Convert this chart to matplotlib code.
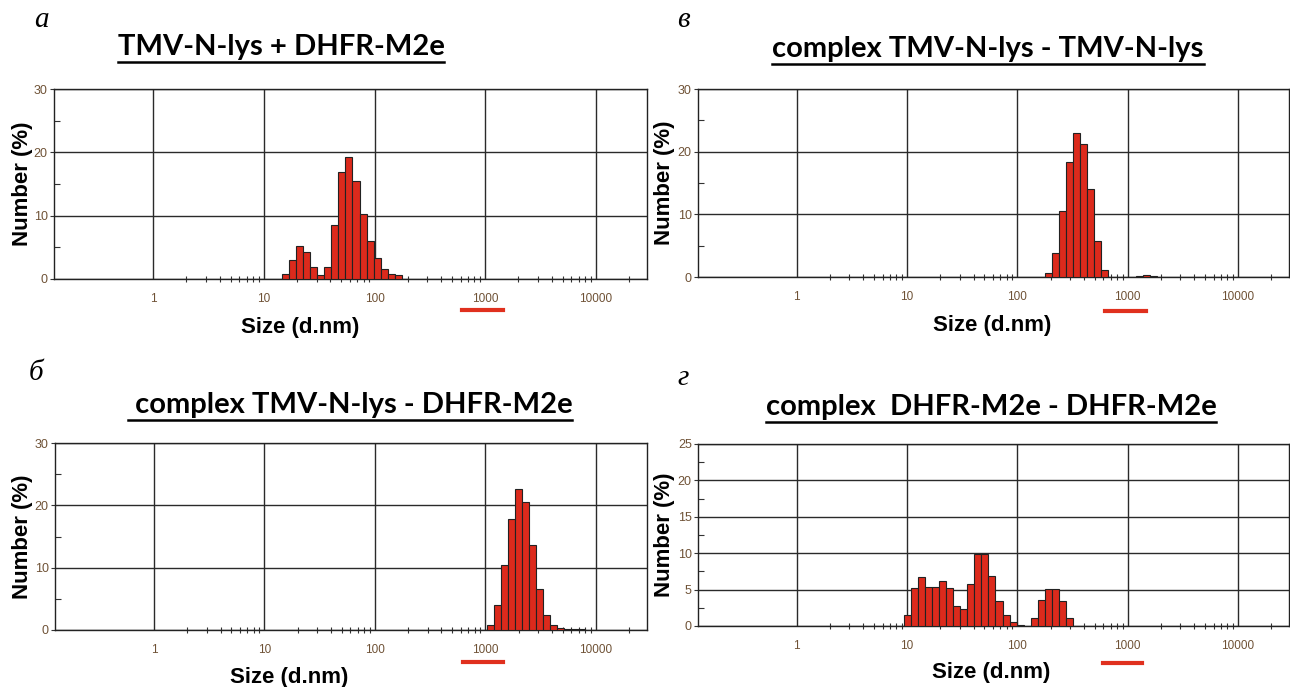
import matplotlib
matplotlib.use("Agg")
import matplotlib.pyplot as plt
from matplotlib.lines import Line2D
from matplotlib.ticker import FixedLocator, NullFormatter

# Zetasizer size classes (d.nm) and number distribution (%)
a_size = [15.69, 18.17, 21.04, 24.36, 28.21, 32.67, 37.84, 43.82, 50.75, 58.77,
          68.06, 78.82, 91.28, 105.7, 122.4, 141.8, 164.2]
a_pct = [0.8, 3.0, 5.2, 4.3, 1.9, 0.6, 1.9, 8.6, 16.9, 19.2,
         15.5, 10.2, 6.0, 3.3, 1.6, 0.8, 0.6]

v_size = [190.1, 220.2, 255.0, 295.3, 342.0, 396.1, 458.7, 531.2, 615.1,
          1281, 1484, 1718]
v_pct = [0.6, 3.9, 10.6, 18.4, 23.0, 21.3, 14.1, 5.8, 1.1,
         0.2, 0.25, 0.2]

b_size = [1106, 1281, 1484, 1718, 1990, 2305, 2669, 3091, 3580, 4145,
          4801, 5560, 6439, 7456]
b_pct = [0.8, 4.0, 10.4, 17.8, 22.7, 20.5, 13.6, 6.5, 2.4, 0.8,
         0.4, 0.2, 0.2, 0.2]

g_size = [10.1, 11.7, 13.54, 15.69, 18.17, 21.04, 24.36, 28.21, 32.67, 37.84,
          43.82, 50.75, 58.77, 68.06, 78.82, 91.28, 105.7,
          141.8, 164.2, 190.1, 220.2, 255.0, 295.3]
g_pct = [1.5, 5.2, 6.7, 5.4, 5.4, 6.2, 5.2, 2.8, 2.3, 5.8,
         9.9, 9.9, 6.9, 3.5, 1.5, 0.5, 0.1,
         1.1, 3.6, 5.1, 5.1, 3.5, 1.1]

titles = ["TMV-N-lys + DHFR-M2e", "complex TMV-N-lys - TMV-N-lys",
          " complex TMV-N-lys - DHFR-M2e", "complex  DHFR-M2e - DHFR-M2e"]
letters = ["а", "в", "б", "г"]
x_ticks = [1, 10, 100, 1000, 10000]
x_ticklabels = ["1", "10", "100", "1000", "10000"]

W, H = 1290, 687
RATIO = 1.158  # size class ratio
BAR = "#dc2a1c"
GRID = "#2a2a2a"
TICKC = "#6f5236"

fig = plt.figure(figsize=(W / 100, H / 100), dpi=100)


def fx(x):
    return x / W


def fy(y):
    return 1 - y / H


def make_axes(left, right, top, bottom):
    return fig.add_axes([fx(left), fy(bottom), fx(right - left), (bottom - top) / H])


def draw_panel(ax, sizes, pct, ymax, ystep, xlab_x):
    lefts = [s / RATIO ** 0.5 for s in sizes]
    widths = [s * (RATIO ** 0.5 - RATIO ** -0.5) for s in sizes]
    ax.bar(lefts, pct, width=widths, align="edge", color=BAR,
           edgecolor="#222222", linewidth=0.8, zorder=3)
    ax.set_xscale("log")
    ax.set_xlim(0.127, 29000)
    ax.set_ylim(0, ymax)
    ax.xaxis.set_major_locator(FixedLocator(x_ticks))
    ax.set_xticklabels(x_ticklabels)
    minors = [m * 10 ** k for k in range(4) for m in range(2, 10)] + [20000]
    ax.xaxis.set_minor_locator(FixedLocator(minors))
    ax.xaxis.set_minor_formatter(NullFormatter())
    yt = list(range(0, ymax + 1, ystep))
    ax.set_yticks(yt)
    ax.set_yticks([v + ystep / 2 for v in yt[:-1]], minor=True)
    ax.tick_params(axis="x", which="major", length=0, pad=10, labelsize=8.5,
                   labelcolor=TICKC)
    ax.tick_params(axis="x", which="minor", length=5, width=0.8,
                   direction="inout", color="#333333")
    ax.tick_params(axis="y", which="major", length=3, width=0.8, pad=1.5,
                   labelsize=9, labelcolor=TICKC, color="#333333")
    ax.tick_params(axis="y", which="minor", length=4, width=0.8,
                   direction="in", color="#333333")
    for t in ax.get_xticklabels() + ax.get_yticklabels():
        t.set_fontfamily("Liberation Sans")
    ax.grid(True, which="major", color=GRID, linewidth=1.0, zorder=0)
    for s in ax.spines.values():
        s.set_color("#222222")
        s.set_linewidth(1.0)
    ax.set_xlabel("Size (d.nm)", fontsize=16, fontweight="bold",
                  family="Liberation Sans")
    ax.xaxis.set_label_coords(xlab_x, -0.2, transform=ax.transAxes)
    ax.set_ylabel("Number (%)", fontsize=16, fontweight="bold",
                  family="Liberation Sans")
    ax.set_axisbelow(True)


ax_a = make_axes(54, 647, 89, 279)
ax_v = make_axes(698, 1289, 89, 277)
ax_b = make_axes(55, 647, 443, 630)
ax_g = make_axes(698, 1289, 444, 626)

draw_panel(ax_a, a_size, a_pct, 30, 10, 0.415)
draw_panel(ax_v, v_size, v_pct, 30, 10, 0.497)
draw_panel(ax_b, b_size, b_pct, 30, 10, 0.395)
draw_panel(ax_g, g_size, g_pct, 25, 5, 0.496)

for ax, x0 in [(ax_a, 33), (ax_v, 675), (ax_b, 33), (ax_g, 675)]:
    bb = ax.get_position()
    ax.yaxis.set_label_coords(fx(x0), (bb.y0 + bb.y1) / 2, transform=fig.transFigure)

# panel letters
for lt, x, y in zip(letters, [41, 683, 36, 683], [20, 20, 373, 378]):
    fig.text(fx(x), fy(y), lt, fontsize=21, style="italic",
             family="Liberation Serif", ha="center", va="center")

# titles with underline
title_pos = [(281, 55), (988, 57), (350, 413), (991, 415)]
title_objs = []
for tt, (x, y) in zip(titles, title_pos):
    title_objs.append(fig.text(fx(x), fy(y), tt, fontsize=21, fontweight="bold",
                               family="Lato", ha="center", va="baseline"))
fig.canvas.draw()
rend = fig.canvas.get_renderer()
for t, (x, y) in zip(title_objs, title_pos):
    bb = t.get_window_extent(rend)
    fig.add_artist(Line2D([bb.x0 / W, bb.x1 / W], [fy(y + 7), fy(y + 7)],
                          transform=fig.transFigure, color="black", linewidth=1.8))

# red marks below the 1000 labels
for x0, x1, y in [(462, 503, 310), (1105, 1146, 311), (463, 503, 662), (1103, 1142, 663)]:
    fig.add_artist(Line2D([fx(x0), fx(x1)], [fy(y), fy(y)], transform=fig.transFigure,
                          color="#e0301e", linewidth=3))

fig.savefig("out.png", dpi=100)
